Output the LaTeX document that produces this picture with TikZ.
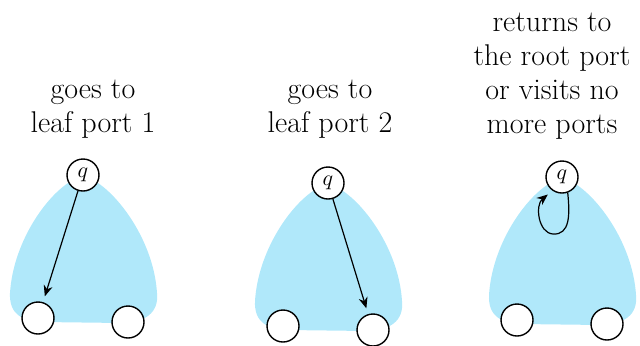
\documentclass[tikz,border=0pt]{standalone}
\usepackage{tikz}
\usetikzlibrary{positioning, arrows.meta}

\definecolor{subtree}{RGB}{176,232,250}

\begin{document}
\begin{tikzpicture}[
        x=0.5pt,
        y=-0.5pt,
        port/.style={
            circle,
            draw,
            fill=white,
            line width=0.7pt,
            minimum size=16pt,
            inner sep=0pt
        },
        root/.style={
            port,
            font=\fontsize{11}{11}\selectfont
        },
        caption/.style={
            align=center,
            anchor=base,
            font=\fontsize{15}{17}\selectfont
        },
        walk/.style={
            -{Stealth[length=5.5pt, width=4.5pt]},
            line width=0.6pt,
            shorten >=3pt
        }
    ]

    \useasboundingbox (0,0) rectangle (640,345);

    % --------------------------------------------------------
    % Subtrees with root and two leaf ports
    % --------------------------------------------------------

    \foreach \qx/\qy/\k in {83/175/1, 328/183/2, 562/177/3} {

        \begin{scope}[shift={(\qx,\qy)}]

            \fill[
                subtree
            ]
            (-15,8)
            .. controls (-40,25) and (-70,70) .. (-73,118)
            .. controls (-74,140) and (-60,146) .. (-40,147)
            -- (40,148)
            .. controls (62,147) and (76,138) .. (74,118)
            .. controls (71,70) and (40,25) .. (15,8)
            .. controls (8,2) and (-8,2) .. cycle;

            \node[
                port
            ]
            (leafL\k)
            at (-45,143) {};

            \node[
                port
            ]
            (leafR\k)
            at (45,147) {};

            \node[
                root
            ]
            (q\k)
            at (0,0) {$q$};

        \end{scope}
    }

    % --------------------------------------------------------
    % Moves of q
    % --------------------------------------------------------

    \draw[
        walk
    ]
    (q1) -- (leafL1);

    \draw[
        walk
    ]
    (q2) -- (leafR2);

    \draw[
        walk
    ]
    (q3.-70)
    .. controls (570,215) and (570,235) .. (553,234)
    .. controls (538,233) and (535,205) .. (q3.-125);

    % --------------------------------------------------------
    % Labels
    % --------------------------------------------------------

    \node[
        caption
    ]
    (lab1)
    at (93,132)
    {goes to\\leaf port 1};

    \node[
        caption
    ]
    (lab2)
    at (330,132)
    {goes to\\leaf port 2};

    \node[
        caption
    ]
    (lab3)
    at (552,133)
    {returns to\\the root port\\or visits no\\more ports};

\end{tikzpicture}
\end{document}
